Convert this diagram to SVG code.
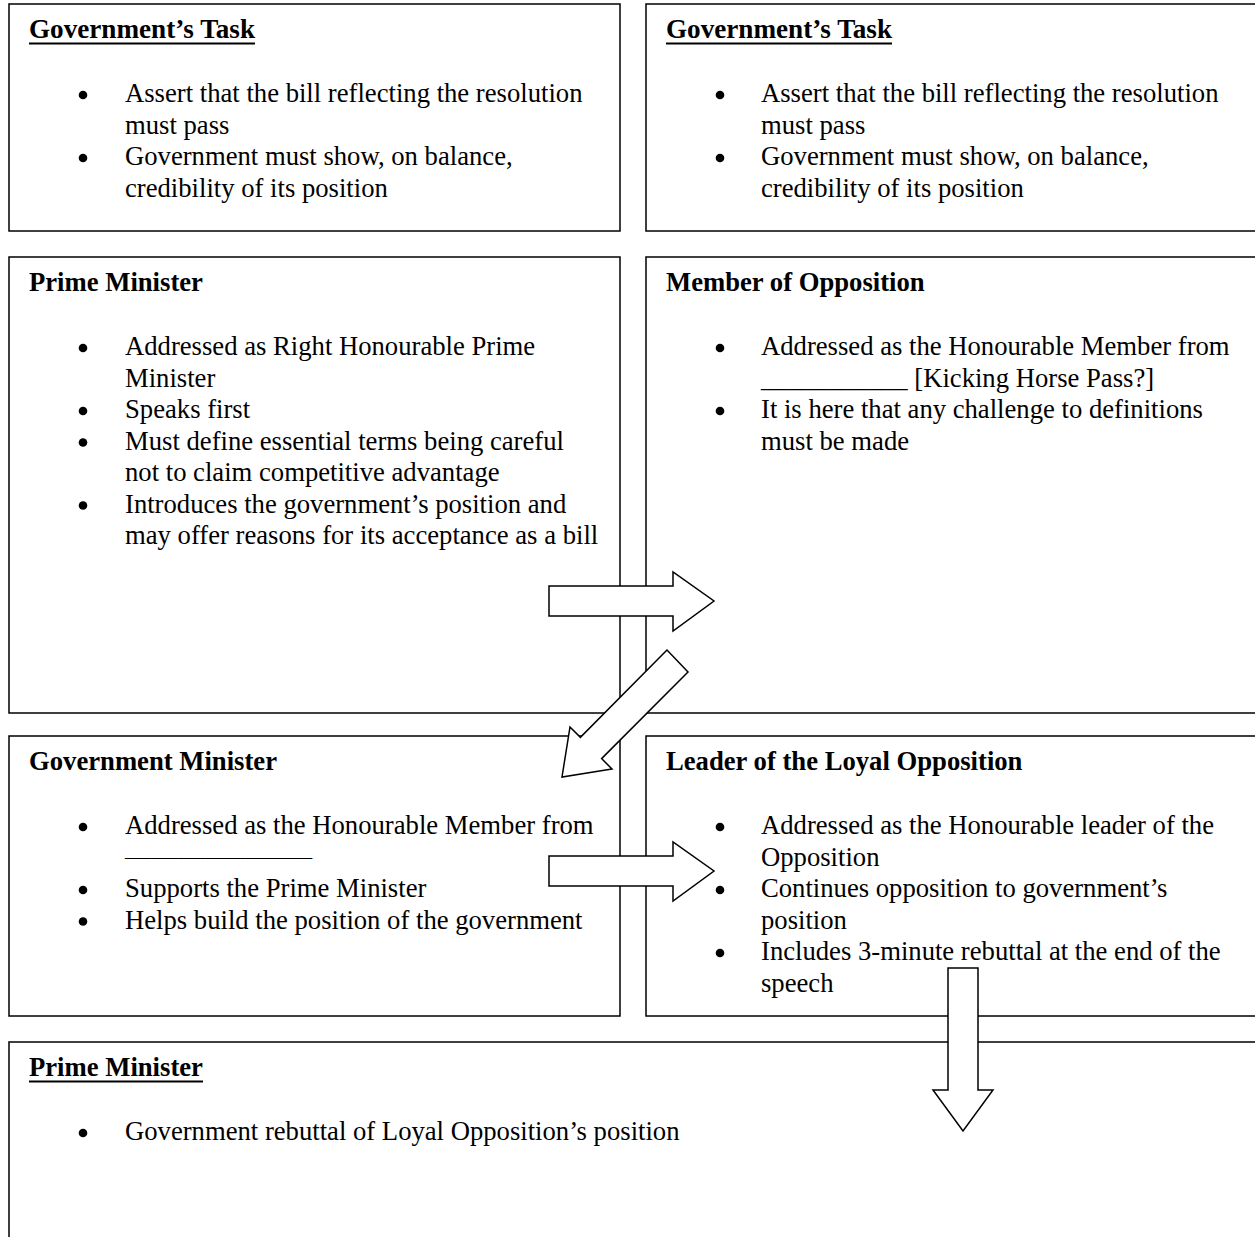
<svg xmlns="http://www.w3.org/2000/svg" width="1255" height="1237" viewBox="0 0 1255 1237">
<style>
.box{fill:#fff;stroke:#000;stroke-width:1.5}
.t{font-family:"Liberation Serif","Times New Roman",serif;font-size:26.67px;fill:#000}
.h{font-weight:bold}
.ul{stroke:#000;stroke-width:2}
.b{fill:#000}
.arr{fill:#fff;stroke:#000;stroke-width:1.5;stroke-linejoin:miter}
</style>
<rect width="1255" height="1237" fill="#fff"/>

<g id="gov-task-left">
<rect class="box" x="9" y="4" width="611" height="227"/>
<text class="t h" x="29" y="38" textLength="226" lengthAdjust="spacingAndGlyphs">Government’s Task</text>
<line class="ul" x1="29" y1="43.5" x2="255" y2="43.5"/>
<circle class="b" cx="83" cy="95" r="4.3"/>
<text class="t" x="125" y="102">Assert that the bill reflecting the resolution</text>
<text class="t" x="125" y="133.5">must pass</text>
<circle class="b" cx="83" cy="158" r="4.3"/>
<text class="t" x="125" y="165">Government must show, on balance,</text>
<text class="t" x="125" y="196.5">credibility of its position</text>
</g>

<g id="gov-task-right">
<rect class="box" x="646" y="4" width="620" height="227"/>
<text class="t h" x="666" y="38" textLength="226" lengthAdjust="spacingAndGlyphs">Government’s Task</text>
<line class="ul" x1="666" y1="43.5" x2="892" y2="43.5"/>
<circle class="b" cx="720" cy="95" r="4.3"/>
<text class="t" x="761" y="102">Assert that the bill reflecting the resolution</text>
<text class="t" x="761" y="133.5">must pass</text>
<circle class="b" cx="720" cy="158" r="4.3"/>
<text class="t" x="761" y="165">Government must show, on balance,</text>
<text class="t" x="761" y="196.5">credibility of its position</text>
</g>

<g id="prime-minister">
<rect class="box" x="9" y="257" width="611" height="456"/>
<text class="t h" x="29" y="291">Prime Minister</text>
<circle class="b" cx="83" cy="348" r="4.3"/>
<text class="t" x="125" y="355">Addressed as Right Honourable Prime</text>
<text class="t" x="125" y="386.5">Minister</text>
<circle class="b" cx="83" cy="411" r="4.3"/>
<text class="t" x="125" y="418">Speaks first</text>
<circle class="b" cx="83" cy="442.5" r="4.3"/>
<text class="t" x="125" y="449.5">Must define essential terms being careful</text>
<text class="t" x="125" y="481">not to claim competitive advantage</text>
<circle class="b" cx="83" cy="505.5" r="4.3"/>
<text class="t" x="125" y="512.5">Introduces the government’s position and</text>
<text class="t" x="125" y="544">may offer reasons for its acceptance as a bill</text>
</g>

<g id="member-of-opposition">
<rect class="box" x="646" y="257" width="620" height="456"/>
<text class="t h" x="666" y="291">Member of Opposition</text>
<circle class="b" cx="720" cy="348" r="4.3"/>
<text class="t" x="761" y="355">Addressed as the Honourable Member from</text>
<text class="t" x="761" y="386.5">___________ [Kicking Horse Pass?]</text>
<circle class="b" cx="720" cy="411" r="4.3"/>
<text class="t" x="761" y="418">It is here that any challenge to definitions</text>
<text class="t" x="761" y="449.5">must be made</text>
</g>

<g id="government-minister">
<rect class="box" x="9" y="736" width="611" height="280"/>
<text class="t h" x="29" y="770">Government Minister</text>
<circle class="b" cx="83" cy="827" r="4.3"/>
<text class="t" x="125" y="834">Addressed as the Honourable Member from</text>
<text class="t" x="125" y="857" style="font-size:16px" textLength="187" lengthAdjust="spacingAndGlyphs">______________</text>
<circle class="b" cx="83" cy="890" r="4.3"/>
<text class="t" x="125" y="897">Supports the Prime Minister</text>
<circle class="b" cx="83" cy="921.5" r="4.3"/>
<text class="t" x="125" y="928.5">Helps build the position of the government</text>
</g>

<g id="leader-of-loyal-opposition">
<rect class="box" x="646" y="736" width="620" height="280"/>
<text class="t h" x="666" y="770">Leader of the Loyal Opposition</text>
<circle class="b" cx="720" cy="827" r="4.3"/>
<text class="t" x="761" y="834">Addressed as the Honourable leader of the</text>
<text class="t" x="761" y="865.5">Opposition</text>
<circle class="b" cx="720" cy="890" r="4.3"/>
<text class="t" x="761" y="897">Continues opposition to government’s</text>
<text class="t" x="761" y="928.5">position</text>
<circle class="b" cx="720" cy="953" r="4.3"/>
<text class="t" x="761" y="960">Includes 3-minute rebuttal at the end of the</text>
<text class="t" x="761" y="991.5">speech</text>
</g>

<g id="prime-minister-rebuttal">
<rect class="box" x="9" y="1042" width="1260" height="220"/>
<text class="t h" x="29" y="1076">Prime Minister</text>
<line class="ul" x1="29" y1="1081.5" x2="203" y2="1081.5"/>
<circle class="b" cx="83" cy="1133" r="4.3"/>
<text class="t" x="125" y="1140">Government rebuttal of Loyal Opposition’s position</text>
</g>

<g id="connectors">
<polygon class="arr" points="549,586 673,586 673,572 714,601 673,631 673,616 549,616"/>
<polygon class="arr" points="667,650 580.4,737.4 570,727 562,777 612,769 601.6,758.6 688,672"/>
<polygon class="arr" points="549,856 673,856 673,842 714,871 673,901 673,886 549,886"/>
<polygon class="arr" points="948,968 978,968 978,1090 993,1090 963,1131 933,1090 948,1090"/>
</g>
</svg>
